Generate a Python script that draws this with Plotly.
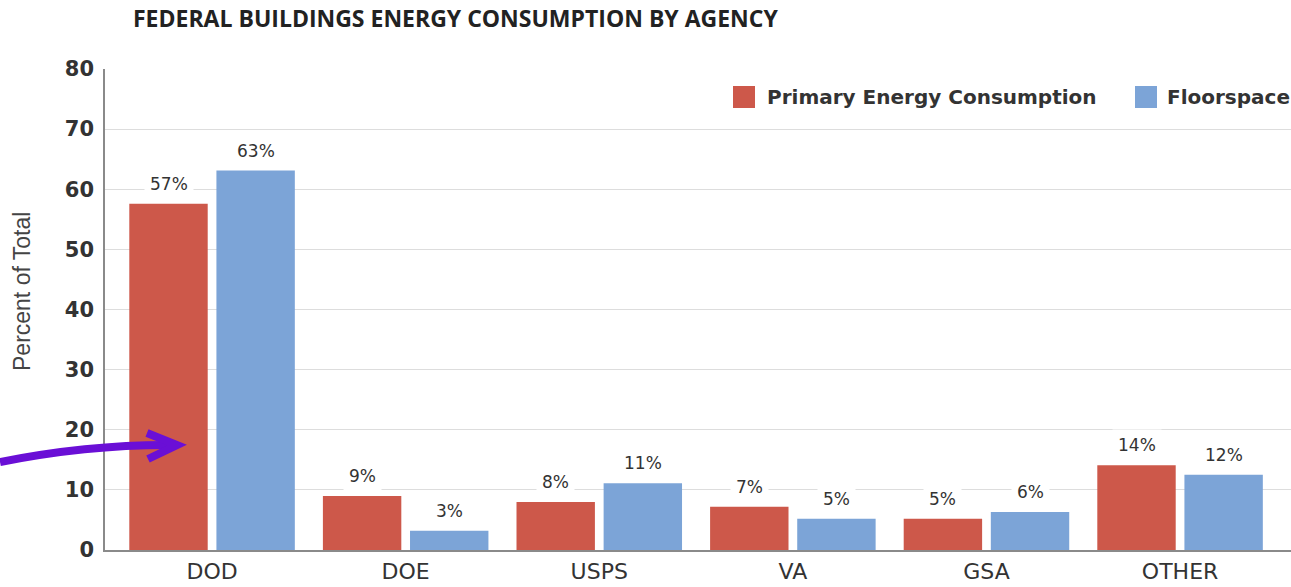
import plotly.graph_objects as go

categories = ["DOD", "DOE", "USPS", "VA", "GSA", "OTHER"]
energy = [57.6, 9.0, 8.0, 7.2, 5.2, 14.1]
floorspace = [63.1, 3.2, 11.1, 5.2, 6.3, 12.5]
energy_labels = ["57%", "9%", "8%", "7%", "5%", "14%"]
floor_labels = ["63%", "3%", "11%", "5%", "6%", "12%"]
series_names = ["Primary Energy Consumption", "Floorspace"]

RED = "#CD584A"
BLUE = "#7CA4D7"
TXT = "#333333"
BARGAP = 0.1
FONT = "DejaVu Sans"

PLOT_L, PLOT_R, PLOT_T, PLOT_B = 105, 1291, 69, 550
FIG_W, FIG_H = 1291, 587

fig = go.Figure()
fig.add_trace(go.Bar(name=series_names[0], x=categories, y=energy,
                     marker=dict(color=RED, line=dict(width=0)), showlegend=False))
fig.add_trace(go.Bar(name=series_names[1], x=categories, y=floorspace,
                     marker=dict(color=BLUE, line=dict(width=0)), showlegend=False))

off = (1 - BARGAP) / 4
annos = []
for i, c in enumerate(categories):
    for val, lab, d in ((energy[i], energy_labels[i], -off), (floorspace[i], floor_labels[i], off)):
        annos.append(dict(x=i + d, y=val, xref="x", yref="y", text=lab, showarrow=False,
                          yanchor="bottom", yshift=4, bgcolor="white", borderpad=5,
                          font=dict(family=FONT, size=17, color=TXT)))

W = PLOT_R - PLOT_L
H = PLOT_B - PLOT_T
def px(xp):
    return (xp - PLOT_L) / W
def pyd(yp):  # page y -> data y
    return (PLOT_B - yp) * 80.0 / H
def pyp(yp):  # page y -> paper y
    return (PLOT_B - yp) / H

# y-axis title as rotated text
annos.append(dict(x=px(22), y=pyp(292), xref="paper", yref="paper", text="Percent of Total",
                  showarrow=False, textangle=-90, xanchor="center", yanchor="middle",
                  font=dict(family="Liberation Sans", size=23, color="#444444")))

# manual legend (large square swatches)
shapes = []
for name, col, sx, tx in ((series_names[0], RED, 733, 765), (series_names[1], BLUE, 1135, 1165)):
    shapes.append(dict(type="rect", xref="paper", yref="paper", x0=px(sx), x1=px(sx + 22),
                       y0=pyp(108), y1=pyp(86), fillcolor=col, line=dict(width=0)))
    annos.append(dict(x=px(tx), y=pyp(97), xref="paper", yref="paper", text=name, showarrow=False,
                      xanchor="left", yanchor="middle",
                      font=dict(family=FONT, size=20, color=TXT, weight=700)))

# purple pointer arrow (decoration)
arrow_col = "#6A0FD6"
curve = f"M {px(0)},{pyd(462)} Q {px(90)},{pyd(444)} {px(176)},{pyd(445)}"
head = f"M {px(147)},{pyd(433)} L {px(177)},{pyd(445)} L {px(148)},{pyd(459)}"
for p in (curve, head):
    shapes.append(dict(type="path", path=p, xref="paper", yref="y",
                       line=dict(color=arrow_col, width=8), layer="above"))

fig.update_layout(
    width=FIG_W, height=FIG_H,
    margin=dict(l=PLOT_L, r=FIG_W - PLOT_R, t=PLOT_T, b=FIG_H - PLOT_B, autoexpand=False),
    paper_bgcolor="white", plot_bgcolor="white",
    barmode="group", bargap=BARGAP, bargroupgap=0.1,
    annotations=annos, shapes=shapes,
    title=dict(text="FEDERAL BUILDINGS ENERGY CONSUMPTION BY AGENCY", x=133 / FIG_W, xanchor="left",
               y=1 - 19 / FIG_H, yanchor="middle",
               font=dict(family="Open Sans", size=23, color="#222222", weight=700)),
    xaxis=dict(range=[-0.553, 5.573], showgrid=False, showline=True, linecolor="#8A8A8A", linewidth=1.5,
               ticks="", ticklabelstandoff=1,
               tickfont=dict(family=FONT, size=22, color=TXT)),
    yaxis=dict(range=[0, 80], dtick=10, showgrid=True, gridcolor="#DDDDDD", gridwidth=1,
               showline=True, linecolor="#8A8A8A", linewidth=1.5, zeroline=False,
               ticks="", ticklabelstandoff=5,
               tickfont=dict(family=FONT, size=21, color=TXT, weight=700)),
    showlegend=False,
)

fig.write_html("out.html", config={"displayModeBar": False},
               post_script="document.body.style.margin='0';document.documentElement.style.overflow='hidden';")
